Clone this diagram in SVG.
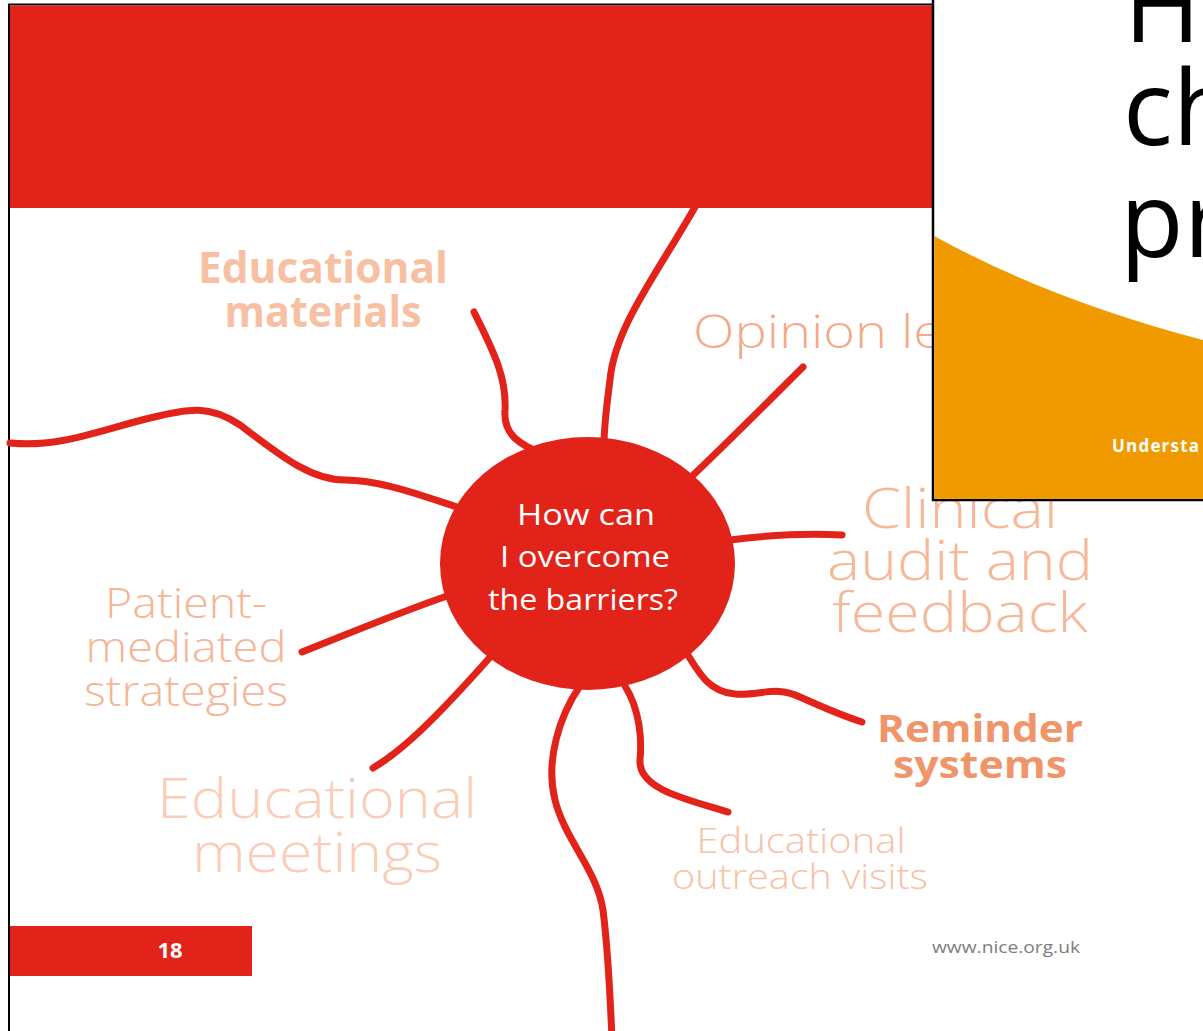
<svg xmlns="http://www.w3.org/2000/svg" width="1203" height="1031" viewBox="0 0 1203 1031">
<style>
.red{fill:#E2231A}
.conn{fill:none;stroke:#E2231A;stroke-width:7;stroke-linecap:round;stroke-linejoin:round}
.lbl{font-family:"Open Sans","Noto Sans","Liberation Sans",sans-serif;text-anchor:middle;font-weight:300}
.b{font-weight:bold}
.ctr{font-family:"Open Sans","Noto Sans","Liberation Sans",sans-serif;fill:#FFFFFF;font-size:30px;text-anchor:middle}
.slide{font-family:"Open Sans","Noto Sans","Liberation Sans",sans-serif;fill:#000000;font-size:104px}
</style>
<rect x="0" y="0" width="1203" height="1031" fill="#FFFFFF"/>
<g id="page">
  <line x1="9" y1="4" x2="9" y2="1031" stroke="#000" stroke-width="2"/>
  <line x1="8" y1="4.5" x2="934" y2="4.5" stroke="#000" stroke-width="2"/>
</g>
<g id="connectors">
  <path class="conn" d="M 699 200 C 660 270 615 325 610 380 C 606 410 604 430 604 445"/>
  <path class="conn" d="M 474 312 C 490 345 507 375 505 410 C 503 435 520 445 545 455"/>
  <path class="conn" d="M 10 443 C 60 448 100 430 150 418 C 190 408 210 405 240 425 C 280 455 310 480 345 480 C 380 480 420 495 460 508"/>
  <path class="conn" d="M 302 652 C 340 637 400 612 450 595"/>
  <path class="conn" d="M 373 768 C 400 752 430 725 492 655"/>
  <path class="conn" d="M 580 686 C 560 715 545 760 555 800 C 565 840 597 870 603 910 C 608 950 610 990 612 1040"/>
  <path class="conn" d="M 625 686 C 640 710 642 740 640 760 C 638 790 690 800 728 812"/>
  <path class="conn" d="M 686 652 C 700 675 710 692 735 694 C 760 696 775 685 800 697 C 820 706 840 715 862 722"/>
  <path class="conn" d="M 730 540 C 770 535 810 533 842 535"/>
  <path class="conn" d="M 688 480 C 730 440 770 400 803 367"/>
</g>
<g id="header">
  <rect class="red" x="10" y="5.5" width="924" height="202.5"/>
</g>
<g id="center">
  <ellipse class="red" cx="587.5" cy="563.5" rx="147.5" ry="126.5"/>
  <text class="ctr" x="586" y="525" textLength="138" lengthAdjust="spacingAndGlyphs">How can</text>
  <text class="ctr" x="585" y="567" textLength="170" lengthAdjust="spacingAndGlyphs">I overcome</text>
  <text class="ctr" x="583" y="610" textLength="190" lengthAdjust="spacingAndGlyphs">the barriers?</text>
</g>
<g id="educational-materials">
  <text class="lbl b" fill="#F8C0A3" font-size="43" x="323" y="283" textLength="250" lengthAdjust="spacingAndGlyphs">Educational</text>
  <text class="lbl b" fill="#F8C0A3" font-size="43" x="323" y="327" textLength="197" lengthAdjust="spacingAndGlyphs">materials</text>
</g>
<g id="opinion-leaders">
  <text class="lbl" fill="#F4AA8A" font-size="46" x="693" y="348" style="text-anchor:start" textLength="250" lengthAdjust="spacingAndGlyphs">Opinion le</text>
</g>
<g id="clinical-audit">
  <text class="lbl" fill="#F6B899" font-size="56" x="960" y="528" textLength="196" lengthAdjust="spacingAndGlyphs">Clinical</text>
  <text class="lbl" fill="#F6B899" font-size="56" x="960" y="580" textLength="266" lengthAdjust="spacingAndGlyphs">audit and</text>
  <text class="lbl" fill="#F6B899" font-size="56" x="960" y="632" textLength="256" lengthAdjust="spacingAndGlyphs">feedback</text>
</g>
<g id="patient-mediated">
  <text class="lbl" fill="#F5B596" font-size="42" x="186" y="618" textLength="162" lengthAdjust="spacingAndGlyphs">Patient-</text>
  <text class="lbl" fill="#F5B596" font-size="42" x="186" y="662" textLength="201" lengthAdjust="spacingAndGlyphs">mediated</text>
  <text class="lbl" fill="#F5B596" font-size="42" x="186" y="706" textLength="204" lengthAdjust="spacingAndGlyphs">strategies</text>
</g>
<g id="educational-meetings">
  <text class="lbl" fill="#FACDB8" font-size="56" x="317" y="818" textLength="320" lengthAdjust="spacingAndGlyphs">Educational</text>
  <text class="lbl" fill="#FACDB8" font-size="56" x="317" y="872" textLength="250" lengthAdjust="spacingAndGlyphs">meetings</text>
</g>
<g id="reminder-systems">
  <text class="lbl b" fill="#F0956A" font-size="38" x="980" y="742" textLength="206" lengthAdjust="spacingAndGlyphs">Reminder</text>
  <text class="lbl b" fill="#F0956A" font-size="38" x="980" y="778" textLength="174" lengthAdjust="spacingAndGlyphs">systems</text>
</g>
<g id="educational-outreach">
  <text class="lbl" fill="#F7C1A6" font-size="35" x="801" y="853" textLength="209" lengthAdjust="spacingAndGlyphs">Educational</text>
  <text class="lbl" fill="#F7C1A6" font-size="35" x="800" y="889" textLength="256" lengthAdjust="spacingAndGlyphs">outreach visits</text>
</g>
<g id="footer">
  <rect class="red" x="10" y="926" width="242" height="50"/>
  <text x="170" y="958" font-family="Open Sans, Noto Sans, Liberation Sans, sans-serif" font-weight="bold" font-size="22" fill="#FFFFFF" text-anchor="middle">18</text>
  <text x="932" y="953" font-family="Open Sans, Noto Sans, Liberation Sans, sans-serif" font-size="17" fill="#7D7D7D" textLength="148" lengthAdjust="spacingAndGlyphs">www.nice.org.uk</text>
</g>
<g id="slide">
  <rect x="933" y="-5" width="280" height="505" fill="#FFFFFF" stroke="#000" stroke-width="2.5"/>
  <path d="M 934.25 236 Q 1048 299 1203 340 L 1203 498.75 L 934.25 498.75 Z" fill="#F09A00"/>
  <text class="slide" x="1124" y="42">H</text>
  <text class="slide" x="1123" y="145">ch</text>
  <text class="slide" x="1120" y="257">pr</text>
  <text x="1112" y="452" font-family="Open Sans, Noto Sans, Liberation Sans, sans-serif" font-weight="bold" font-size="17" fill="#FFFFFF" letter-spacing="1.2">Understa</text>
</g>
</svg>
